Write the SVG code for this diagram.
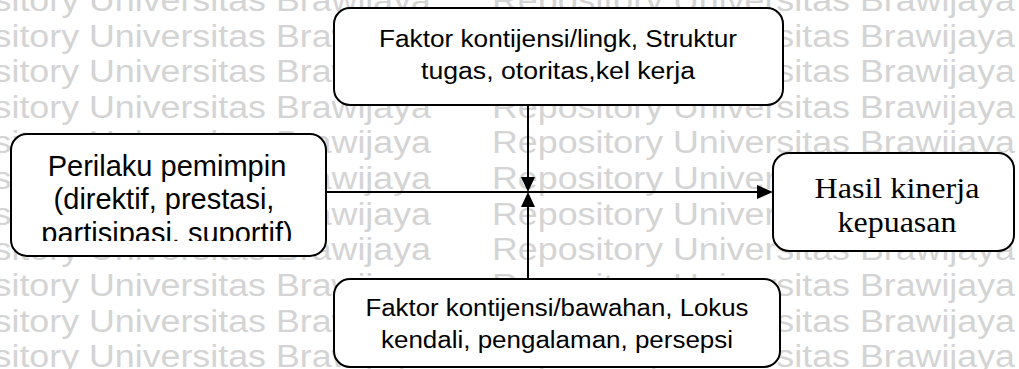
<svg xmlns="http://www.w3.org/2000/svg" width="1019" height="369" viewBox="0 0 1019 369">
  <style>
    .wm { font-family: "Liberation Sans", Arial, sans-serif; font-size: 31px; fill: #d4d4d4; }
    .box { fill: #ffffff; stroke: #000000; stroke-width: 2; }
    .sans { font-family: "Liberation Sans", Arial, sans-serif; fill: #000000; text-anchor: middle; }
    .serif { font-family: "Liberation Serif", "Times New Roman", serif; fill: #000000; text-anchor: middle; }
    .wire { stroke: #000000; stroke-width: 2; fill: none; }
    .head { fill: #000000; stroke: none; }
  </style>
  <defs>
    <clipPath id="clip-leader">
      <rect x="12" y="135" width="313" height="106"/>
    </clipPath>
  </defs>

  <rect width="1019" height="369" fill="#ffffff"/>

  <!-- background watermark: two columns of the repository line per row -->
  <g id="watermark">
    <text class="wm" x="-92" y="11" textLength="523" lengthAdjust="spacingAndGlyphs">Repository Universitas Brawijaya</text>
    <text class="wm" x="492" y="11" textLength="523" lengthAdjust="spacingAndGlyphs">Repository Universitas Brawijaya</text>
    <text class="wm" x="-92" y="47" textLength="523" lengthAdjust="spacingAndGlyphs">Repository Universitas Brawijaya</text>
    <text class="wm" x="492" y="47" textLength="523" lengthAdjust="spacingAndGlyphs">Repository Universitas Brawijaya</text>
    <text class="wm" x="-92" y="82" textLength="523" lengthAdjust="spacingAndGlyphs">Repository Universitas Brawijaya</text>
    <text class="wm" x="492" y="82" textLength="523" lengthAdjust="spacingAndGlyphs">Repository Universitas Brawijaya</text>
    <text class="wm" x="-92" y="118" textLength="523" lengthAdjust="spacingAndGlyphs">Repository Universitas Brawijaya</text>
    <text class="wm" x="492" y="118" textLength="523" lengthAdjust="spacingAndGlyphs">Repository Universitas Brawijaya</text>
    <text class="wm" x="-92" y="153" textLength="523" lengthAdjust="spacingAndGlyphs">Repository Universitas Brawijaya</text>
    <text class="wm" x="492" y="153" textLength="523" lengthAdjust="spacingAndGlyphs">Repository Universitas Brawijaya</text>
    <text class="wm" x="-92" y="189" textLength="523" lengthAdjust="spacingAndGlyphs">Repository Universitas Brawijaya</text>
    <text class="wm" x="492" y="189" textLength="523" lengthAdjust="spacingAndGlyphs">Repository Universitas Brawijaya</text>
    <text class="wm" x="-92" y="225" textLength="523" lengthAdjust="spacingAndGlyphs">Repository Universitas Brawijaya</text>
    <text class="wm" x="492" y="225" textLength="523" lengthAdjust="spacingAndGlyphs">Repository Universitas Brawijaya</text>
    <text class="wm" x="-92" y="260" textLength="523" lengthAdjust="spacingAndGlyphs">Repository Universitas Brawijaya</text>
    <text class="wm" x="492" y="260" textLength="523" lengthAdjust="spacingAndGlyphs">Repository Universitas Brawijaya</text>
    <text class="wm" x="-92" y="296" textLength="523" lengthAdjust="spacingAndGlyphs">Repository Universitas Brawijaya</text>
    <text class="wm" x="492" y="296" textLength="523" lengthAdjust="spacingAndGlyphs">Repository Universitas Brawijaya</text>
    <text class="wm" x="-92" y="332" textLength="523" lengthAdjust="spacingAndGlyphs">Repository Universitas Brawijaya</text>
    <text class="wm" x="492" y="332" textLength="523" lengthAdjust="spacingAndGlyphs">Repository Universitas Brawijaya</text>
    <text class="wm" x="-92" y="367" textLength="523" lengthAdjust="spacingAndGlyphs">Repository Universitas Brawijaya</text>
    <text class="wm" x="492" y="367" textLength="523" lengthAdjust="spacingAndGlyphs">Repository Universitas Brawijaya</text>
  </g>

  <!-- connectors -->
  <g id="connectors">
    <line class="wire" x1="326" y1="192" x2="758" y2="192"/>
    <polygon class="head" points="773,192 757,185 757,199"/>
    <line class="wire" x1="528" y1="105" x2="528" y2="178"/>
    <polygon class="head" points="528,192 521,177 535,177"/>
    <line class="wire" x1="528" y1="279" x2="528" y2="206"/>
    <polygon class="head" points="528,192 521,207 535,207"/>
  </g>

  <g id="node-lingkungan">
    <rect class="box" x="334" y="8" width="449" height="97" rx="16"/>
    <text class="sans" font-size="23" x="558" y="47" textLength="358" lengthAdjust="spacingAndGlyphs">Faktor kontijensi/lingk, Struktur</text>
    <text class="sans" font-size="23" x="558" y="79" textLength="274" lengthAdjust="spacingAndGlyphs">tugas, otoritas,kel kerja</text>
  </g>

  <g id="node-perilaku">
    <rect class="box" x="11" y="134" width="315" height="122" rx="16"/>
    <g clip-path="url(#clip-leader)">
      <text class="sans" font-size="29" x="167" y="176">Perilaku pemimpin</text>
      <text class="sans" font-size="29" x="164" y="209">(direktif, prestasi,</text>
      <text class="sans" font-size="29" x="167" y="243">partisipasi, suportif)</text>
    </g>
  </g>

  <g id="node-hasil">
    <rect class="box" x="773" y="153" width="241" height="98" rx="16"/>
    <text class="serif" font-size="29" x="897" y="198" textLength="165" lengthAdjust="spacingAndGlyphs">Hasil kinerja</text>
    <text class="serif" font-size="29" x="897" y="232" textLength="119" lengthAdjust="spacingAndGlyphs">kepuasan</text>
  </g>

  <g id="node-bawahan">
    <rect class="box" x="334" y="279" width="446" height="88" rx="16"/>
    <text class="sans" font-size="23" x="557" y="316" textLength="383" lengthAdjust="spacingAndGlyphs">Faktor kontijensi/bawahan, Lokus</text>
    <text class="sans" font-size="23" x="557" y="348" textLength="352" lengthAdjust="spacingAndGlyphs">kendali, pengalaman, persepsi</text>
  </g>
</svg>
